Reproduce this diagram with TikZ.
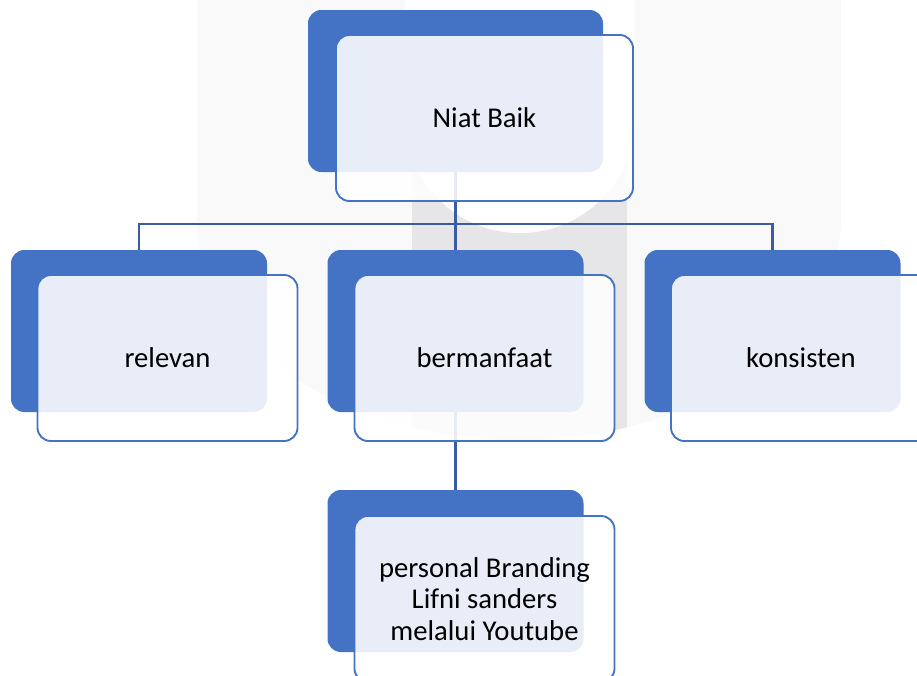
\documentclass[tikz,border=0pt]{standalone}
\usepackage{fontspec}
\setmainfont{Carlito}
\usepackage{tikz}
\usepackage{xcolor}
\definecolor{accent}{RGB}{68,114,196}
\definecolor{linkblue}{RGB}{59,92,160}
\definecolor{wmlight}{RGB}{249,249,249}
\definecolor{wmgrey}{RGB}{230,230,232}
\tikzset{
	backbox/.style={fill=accent, rounded corners=10pt, minimum width=192pt,
		minimum height=121.5pt, inner sep=0pt},
	frontbox/.style={draw=accent, line width=1.4pt, fill=white, fill opacity=0.88,
		text opacity=1, rounded corners=10pt, minimum width=195pt,
		minimum height=124.5pt, inner sep=0pt, align=center,
		font=\fontsize{21.5}{23.8}\selectfont},
	link/.style={draw=linkblue, line width=1.6pt}
}

\begin{document}
\begin{tikzpicture}[x=0.75pt,y=-0.75pt]
		\useasboundingbox (0,0) rectangle (917,675);
		\clip (0,0) rectangle (917,675);
		
		\fill[wmlight] (197,0) -- (197,220) arc[start angle=180,end angle=0,
		x radius=322,y radius=220] -- (841,0) -- cycle;
		\begin{scope}
			\clip (197,0) -- (197,220) arc[start angle=180,end angle=0,
			x radius=322,y radius=220] -- (841,0) -- cycle;
			\fill[wmgrey] (412,0) rectangle (627,450);
		\end{scope}
		\fill[white] (405,0) -- (405,118) arc[start angle=180,end angle=0,
		radius=115] -- (635,0) -- cycle;
		
		\node[backbox, minimum width=221.25pt] (niatback) at (455.5,91) {};
		\node[backbox] (relevanback) at (139,331) {};
		\node[backbox] (bermanfaatback) at (455.5,331) {};
		\node[backbox] (konsistenback) at (772.5,331) {};
		\node[backbox] (brandingback) at (455.5,571) {};
		
		\coordinate (fork) at (455.5,224);
		\draw[link] (niatback.south) -- (fork);
		\draw[link] (relevanback.north) |- (fork) -| (konsistenback.north);
		\draw[link] (fork) -- (bermanfaatback.north);
		\draw[link] (bermanfaatback.south) -- (brandingback.north);
		
		\node[frontbox, minimum width=222.75pt] (niat) at (484.5,118) {Niat Baik};
		\node[frontbox] (relevan) at (167.5,358) {relevan};
		\node[frontbox] (bermanfaat) at (484.5,358) {bermanfaat};
		\node[frontbox] (konsisten) at (801,358) {konsisten};
		\node[frontbox] (branding) at (484.5,599) 
		{personal Branding\\ Lifni sanders\\ melalui Youtube};
	\end{tikzpicture}
\end{document}
